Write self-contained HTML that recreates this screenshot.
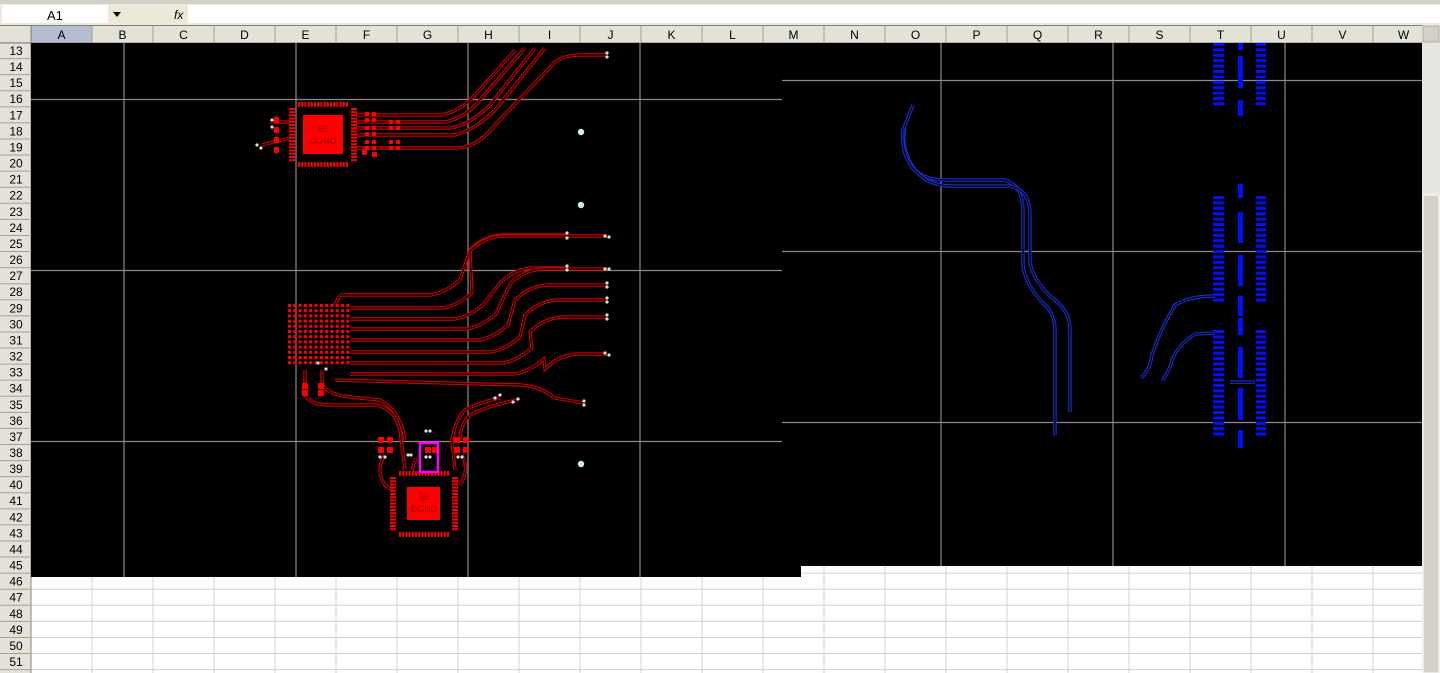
<!DOCTYPE html>
<html><head><meta charset="utf-8"><style>
html,body{margin:0;padding:0;background:#fff;width:1440px;height:673px;overflow:hidden}
svg{display:block}
text{font-family:"Liberation Sans",sans-serif}
</style></head><body>
<svg id="s" width="1440" height="673" viewBox="0 0 1440 673" xmlns="http://www.w3.org/2000/svg">
<rect x="0" y="0" width="1440" height="673" fill="#fff"/>
<rect x="0" y="0" width="1440" height="25" fill="#ece9d8"/>
<rect x="0" y="0" width="1440" height="4" fill="#d4d0c8"/>
<rect x="2" y="5" width="106" height="18" fill="#fff"/>
<text x="47" y="20" font-size="13" font-family="Liberation Serif">A1</text>
<rect x="108" y="5" width="80" height="18" fill="#ece9d8"/>
<polygon points="113,12 121,12 117,17" fill="#000"/>
<text x="174" y="19" font-size="12" font-style="italic" font-family="Liberation Serif">fx</text>
<rect x="188" y="5" width="1252" height="18" fill="#fff"/>
<rect x="0" y="25" width="1440" height="1" fill="#808080"/>
<g id="grid"></g>
<g id="hdr"></g>
<rect x="31" y="43" width="770" height="534" fill="#000"/>
<g stroke="#8a8a8a" stroke-width="1.2">
<line x1="124" y1="43" x2="124" y2="577"/><line x1="296" y1="43" x2="296" y2="577"/><line x1="468" y1="43" x2="468" y2="577"/><line x1="640" y1="43" x2="640" y2="577"/>
<line x1="31" y1="99.5" x2="801" y2="99.5"/><line x1="31" y1="270.5" x2="801" y2="270.5"/><line x1="31" y1="441.5" x2="801" y2="441.5"/>
</g>
<g id="red" fill="none"></g>
<rect x="782" y="43" width="640" height="523" fill="#000"/>
<g stroke="#8a8a8a" stroke-width="1.2">
<line x1="941" y1="43" x2="941" y2="566"/><line x1="1113" y1="43" x2="1113" y2="566"/><line x1="1285" y1="43" x2="1285" y2="566"/>
<line x1="782" y1="80.5" x2="1422" y2="80.5"/><line x1="782" y1="251.5" x2="1422" y2="251.5"/><line x1="782" y1="422.5" x2="1422" y2="422.5"/>
</g>
<g id="blue" fill="none"></g>
<rect x="1422" y="25" width="18" height="648" fill="#e8e6e0"/>
<rect x="1423" y="26" width="16" height="16" fill="#d4d0c8" stroke="#808080" stroke-width="0.5"/>
<rect x="1423" y="195" width="16" height="478" fill="#d4d0c8" stroke="#fff" stroke-width="1"/>
</svg>
<script>
const NS="http://www.w3.org/2000/svg";
function el(p,t,a,txt){const e=document.createElementNS(NS,t);for(const k in a)e.setAttribute(k,a[k]);if(txt)e.textContent=txt;document.getElementById(p).appendChild(e);return e;}
const rowH=16.08,top0=42.5;
for(let c=0;c<=23;c++){const x=31+61*c;el('grid','line',{x1:x,y1:26,x2:x,y2:673,stroke:'#d0d0d0','stroke-width':1});}
for(let r=0;r<=40;r++){const y=top0+r*rowH;el('grid','line',{x1:0,y1:y,x2:1422,y2:y,stroke:'#d0d0d0','stroke-width':1});}
el('hdr','rect',{x:0,y:26,width:1422,height:17,fill:'#e4e1d6'});
el('hdr','rect',{x:0,y:26,width:31,height:647,fill:'#e4e1d6'});
el('hdr','rect',{x:31,y:26,width:61,height:17,fill:'#b6bdd2'});
const L="ABCDEFGHIJKLMNOPQRSTUVW";
for(let c=0;c<23;c++){const x=31+61*c;el('hdr','line',{x1:x,y1:26,x2:x,y2:43,stroke:'#a0a0a0'});el('hdr','text',{x:x+30.5,y:39,'font-size':12,'text-anchor':'middle','font-family':'Liberation Serif'},L[c]);}
el('hdr','line',{x1:0,y1:43,x2:1422,y2:43,stroke:'#808080'});
el('hdr','line',{x1:31,y1:26,x2:31,y2:673,stroke:'#808080'});
for(let r=13;r<=52;r++){const y=top0+(r-13)*rowH;el('hdr','line',{x1:0,y1:y,x2:31,y2:y,stroke:'#a0a0a0'});el('hdr','text',{x:16,y:y+12.5,'font-size':12,'text-anchor':'middle','font-family':'Liberation Serif'},String(r));}
function tr(d){el('red','path',{d:d,stroke:'#d00000','stroke-width':3.4});el('red','path',{d:d,stroke:'#000','stroke-width':1.2});}
function tb(d){el('blue','path',{d:d,stroke:'#1830d0','stroke-width':3.4});el('blue','path',{d:d,stroke:'#000','stroke-width':1.2});}
tr('M356,115 L440,115 Q460,112 475,95 L515,50');
tr('M356,122 L445,122 Q465,118 480,100 L525,48');
tr('M356,128 L450,128 Q470,125 490,105 L535,48');
tr('M356,135 L455,135 Q475,130 495,110 L545,48');
tr('M356,148 L460,148 Q480,145 495,125 L555,62 Q565,55 580,55 L607,55');
tr('M270,122 L290,122');tr('M262,145 L290,138');
const ends=[[567,235,270],[607,236,270],[567,268,300],[607,269,310],[607,285,315],[607,300,325],[607,317,330],[607,354,345]];
const ys=[295,308,319,329,340,352,363,374];
ends.forEach((e,i)=>{const y=ys[i];const x1=430+i*12;tr(`M${i==0?340:350},${y} L${x1},${y} Q${x1+15},${y-2} ${x1+30},${y-15} L${e[2]+200},${e[1]+15} Q${e[2]+215},${e[1]} ${e[2]+235},${e[1]} L${e[0]},${e[1]}`);});
tr('M340,295 L335,305');
tr('M335,380 L520,385 Q540,386 555,398 L584,403');
tr('M305,370 L305,395 Q310,405 330,405 L375,405 Q395,408 400,430 L405,470');
tr('M322,370 L322,385 Q330,395 350,397 L380,400 Q400,410 405,440');
tr('M500,398 Q480,402 465,410 Q455,420 452,440 L455,470');
tr('M517,400 Q490,405 470,415 Q460,425 460,440');
tr('M385,455 Q375,470 385,485 L392,490');tr('M462,455 Q470,470 460,485');
tr('M412,470 L416,458');
function chip(x0,y0,x1,y1,bx,by,bw,bh,tx,ty){
 for(let x=x0+2;x<x1-1;x+=3.2){el('red','rect',{x:x,y:y0,width:2,height:5,fill:'#f00'});el('red','rect',{x:x,y:y1-5,width:2,height:5,fill:'#f00'});}
 for(let y=y0+6;y<y1-6;y+=3.2){el('red','rect',{x:x0-7,y:y,width:6,height:2,fill:'#f00'});el('red','rect',{x:x1+1,y:y,width:6,height:2,fill:'#f00'});}
 el('red','rect',{x:bx,y:by,width:bw,height:bh,fill:'#f00'});
 el('red','text',{x:tx,y:ty,'font-size':9,'text-anchor':'middle',fill:'#900'},'65');
 el('red','text',{x:tx,y:ty+12,'font-size':9,'text-anchor':'middle',fill:'#900'},'DGND');
}
chip(296,102,350,167,303,115,40,39,323,132);
chip(397,471,451,537,407,487,33,33,424,500);
[[365,112],[365,126],[389,120],[389,140],[365,140]].forEach(p=>{el('red','rect',{x:p[0],y:p[1],width:4,height:4,fill:'#f00'});el('red','rect',{x:p[0]+7,y:p[1],width:4,height:4,fill:'#f00'});el('red','rect',{x:p[0],y:p[1]+6,width:4,height:4,fill:'#f00'});el('red','rect',{x:p[0]+7,y:p[1]+6,width:4,height:4,fill:'#f00'});});
el('red','rect',{x:362,y:150,width:5,height:5,fill:'#f00'});el('red','rect',{x:372,y:152,width:5,height:5,fill:'#f00'});
[[274,117],[274,127],[274,137],[274,147]].forEach(p=>el('red','rect',{x:p[0],y:p[1],width:5,height:6,fill:'#f00'}));
[[378,437],[387,437],[378,447],[387,447],[454,437],[463,437],[454,447],[463,447],[425,447],[432,447]].forEach(p=>el('red','rect',{x:p[0],y:p[1],width:6,height:6,fill:'#f00'}));
[[302,383],[302,390],[318,383],[318,390]].forEach(p=>el('red','rect',{x:p[0],y:p[1],width:6,height:6,fill:'#f00'}));
for(let i=0;i<12;i++)for(let j=0;j<12;j++)el('red','rect',{x:288+i*5.3,y:304+j*5.2,width:3,height:3,fill:'#f00'});
el('red','rect',{x:420,y:443,width:18,height:29,fill:'none',stroke:'#f0f','stroke-width':2.5});
const vias=[[607,53],[607,57],[272,120],[272,127],[257,145],[261,148],[567,233],[567,238],[605,236],[609,237],[567,266],[567,270],[605,269],[609,269],[607,283],[607,287],[607,298],[607,302],[607,315],[607,319],[605,353],[609,355],[584,401],[584,405],[495,398],[500,395],[513,402],[518,399],[318,363],[326,369],[426,431],[430,431],[408,455],[411,455],[426,457],[430,457],[380,457],[385,457],[458,457],[462,457],[914,103],[914,107],[901,126],[904,129],[963,342],[968,348],[1027,436],[1032,436],[1053,436],[1057,436],[1069,436],[1073,436],[1102,436],[1107,436],[1070,410],[1070,414],[1139,376],[1143,379],[1160,380],[1164,382],[1211,213],[1211,218],[1210,246],[1210,250],[1249,216],[1253,216],[1249,250],[1253,250],[1253,263],[1253,268],[1249,281],[1253,282],[1253,295],[1253,299],[1249,335],[1253,336],[1229,379],[1229,384]];
vias.forEach(v=>el('red','circle',{cx:v[0],cy:v[1],r:1.6,fill:'#ddd'}));
[[581,132],[581,205],[581,464],[1226,114],[1226,186],[1226,446]].forEach(v=>el('red','circle',{cx:v[0],cy:v[1],r:3.2,fill:'#cfeff0'}));
tb('M913,105 L905,125 Q900,150 915,170 Q925,180 945,180 L1005,180 Q1022,185 1023,210 L1023,265 Q1025,285 1045,305 Q1055,315 1055,330 L1055,436');
tb('M903,128 Q900,160 920,175 Q930,185 950,186 L1010,186 Q1030,190 1030,215 L1030,262 Q1033,282 1055,300 Q1070,312 1070,330 L1070,412');
tb('M1141,378 Q1150,370 1152,355 Q1160,330 1175,305 Q1190,296 1215,296');
tb('M1162,381 Q1170,370 1172,360 Q1178,345 1195,334 L1215,333');
tb('M1230,382 L1255,382');
function strip(x,y0,y1,w){for(let y=y0;y<y1;y+=5.4)el('blue','rect',{x:x,y:y,width:w,height:3,fill:'#0010ff'});}
[[43,103],[196,302],[330,436]].forEach(g=>{strip(1213,g[0],g[1],11);strip(1256,g[0],g[1],10);});
[[56,88],[100,116],[184,198],[212,243],[255,286],[296,316],[318,335],[347,378],[388,420],[430,448],[43,50]].forEach(d=>el('blue','rect',{x:1238,y:d[0],width:5,height:d[1]-d[0],fill:'#0010ff'}));
</script>
</body></html>
